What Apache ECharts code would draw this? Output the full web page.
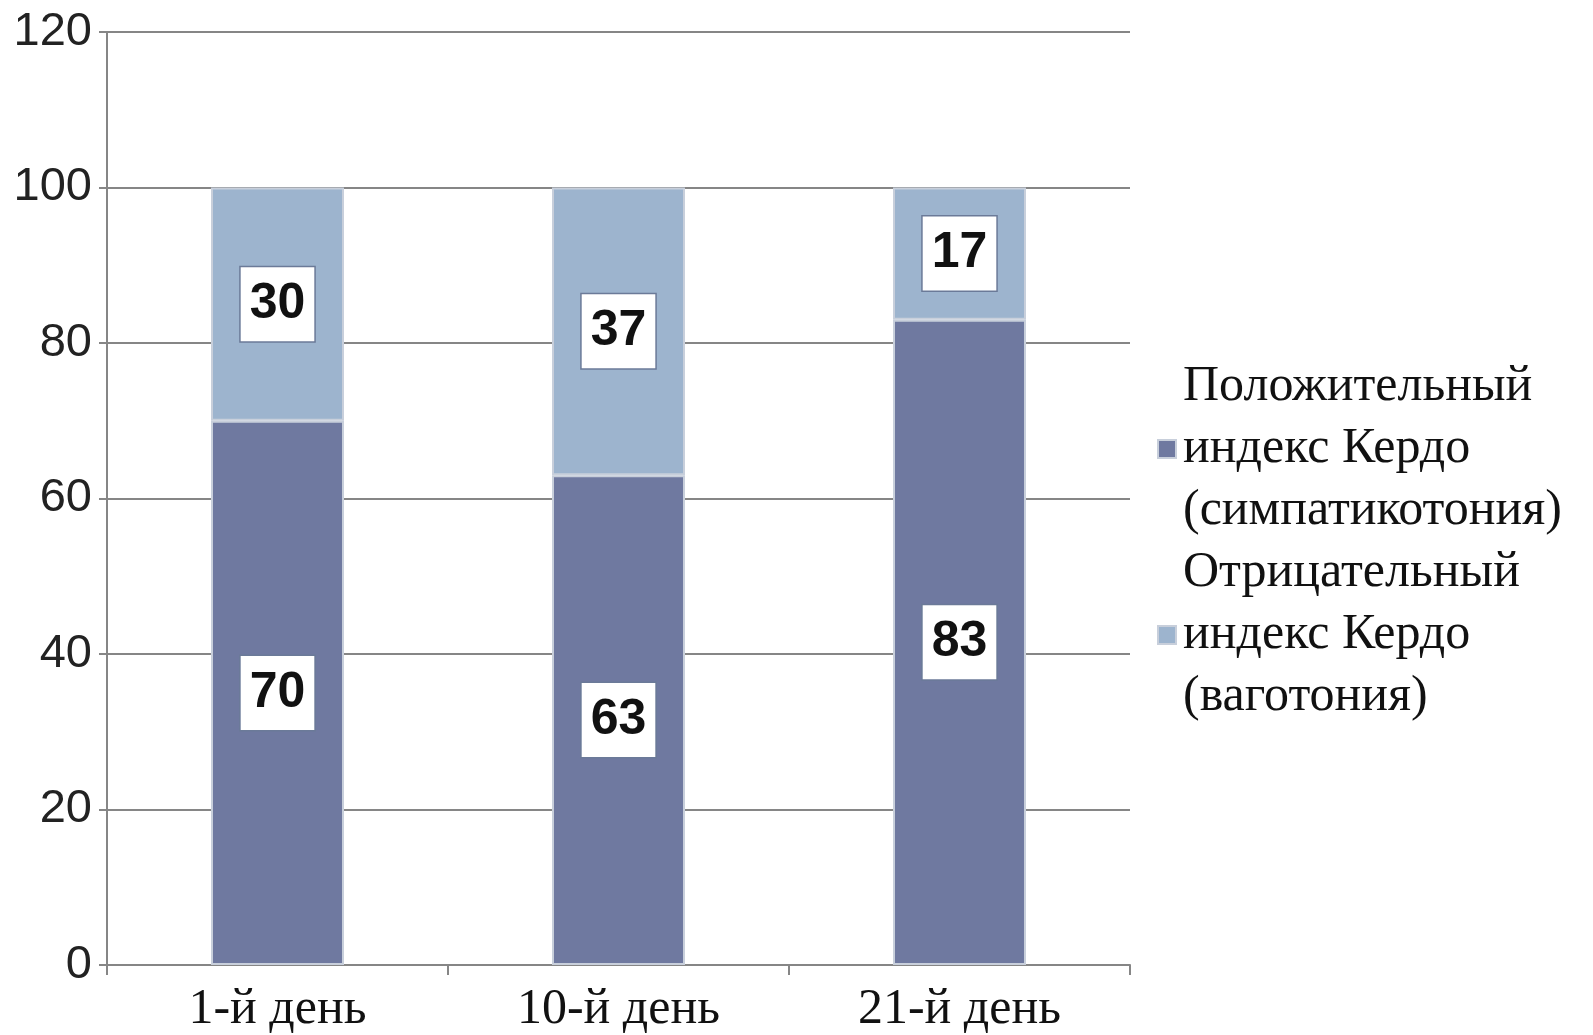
<!DOCTYPE html>
<html>
<head>
<meta charset="utf-8">
<script src="https://cdn.jsdelivr.net/npm/echarts@6/dist/echarts.min.js"></script>
<style>
  html, body { margin: 0; padding: 0; background: #fff; }
  #chart { width: 1593px; height: 1035px; }
</style>
</head>
<body>
<div id="chart"></div>
<script>
// Kerdo index distribution by day of observation (%)
const days = ['1-й день', '10-й день', '21-й день'];
const positiveKerdo = [70, 63, 83];   // симпатикотония
const negativeKerdo = [30, 37, 17];   // ваготония
const seriesNames = [
  'Положительный\nиндекс Кердо\n(симпатикотония)',
  'Отрицательный\nиндекс Кердо\n(ваготония)'
];
const yTicks = { min: 0, max: 120, interval: 20 };

const chart = echarts.init(document.getElementById('chart'));

const valueLabel = {
  show: true,
  position: 'inside',
  fontFamily: 'Liberation Sans, Arial, sans-serif',
  fontSize: 50,
  fontWeight: 'bold',
  color: '#111',
  backgroundColor: '#ffffff',
  borderColor: '#6b7a98',
  borderWidth: 1.5,
  padding: [13, 9, 11, 9]
};

const barItem = (color) => ({
  color: color,
  borderColor: '#c8cfdb',
  borderWidth: 2
});

chart.setOption({
  animation: false,
  backgroundColor: '#ffffff',
  grid: { left: 107, right: 463, top: 32, bottom: 69 },
  legend: {
    orient: 'vertical',
    left: 1157,
    top: 356,
    padding: 0,
    itemWidth: 18,
    itemHeight: 18,
    itemGap: 0,
    icon: 'rect',
    textStyle: {
      fontFamily: 'Liberation Serif, Times New Roman, serif',
      fontSize: 50,
      lineHeight: 62,
      color: '#111',
      padding: [0, 0, 0, 2]
    },
    data: seriesNames
  },
  xAxis: {
    type: 'category',
    data: days,
    axisLine: { lineStyle: { color: '#868686', width: 2 } },
    axisTick: { show: true, length: 10, lineStyle: { color: '#868686', width: 2 } },
    axisLabel: {
      fontFamily: 'Liberation Serif, Times New Roman, serif',
      fontSize: 50,
      color: '#111',
      margin: 20
    }
  },
  yAxis: {
    type: 'value',
    min: yTicks.min,
    max: yTicks.max,
    interval: yTicks.interval,
    axisLine: { show: true, lineStyle: { color: '#868686', width: 2 } },
    axisTick: { show: true, length: 8, lineStyle: { color: '#868686', width: 2 } },
    axisLabel: {
      fontFamily: 'Liberation Sans, Arial, sans-serif',
      fontSize: 47,
      color: '#222',
      margin: 15
    },
    splitLine: { lineStyle: { color: '#868686', width: 2 } }
  },
  series: [
    {
      name: seriesNames[0],
      type: 'bar',
      stack: 'kerdo',
      barWidth: '39%',
      data: positiveKerdo,
      itemStyle: barItem('#6f79a0'),
      label: valueLabel
    },
    {
      name: seriesNames[1],
      type: 'bar',
      stack: 'kerdo',
      barWidth: '39%',
      data: negativeKerdo,
      itemStyle: barItem('#9db4ce'),
      label: valueLabel
    }
  ]
});
</script>
</body>
</html>
